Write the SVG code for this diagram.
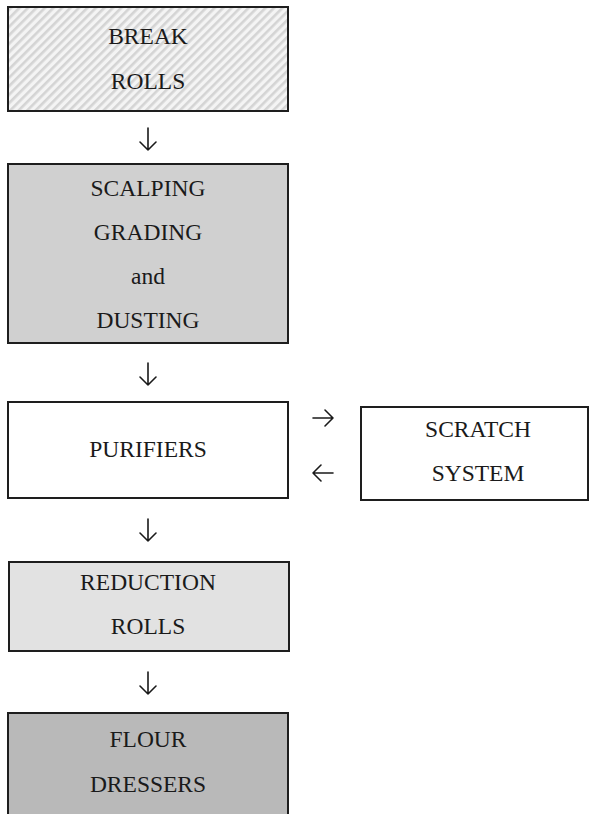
<svg xmlns="http://www.w3.org/2000/svg" width="589" height="814" viewBox="0 0 589 814">
  <defs>
    <pattern id="hatch" patternUnits="userSpaceOnUse" width="6" height="6" patternTransform="rotate(45)">
      <rect width="6" height="6" fill="#f4f4f4"/>
      <rect width="2.6" height="6" fill="#d4d4d4"/>
    </pattern>
    <style>
      .box { stroke: #1e1e1e; stroke-width: 2; }
      .lbl { font-family: "Liberation Serif", "Times New Roman", serif; font-size: 23.5px; fill: #1a1a1a; text-anchor: middle; }
      .arw { fill: none; stroke: #1a1a1a; stroke-width: 1.6; stroke-linecap: round; stroke-linejoin: round; }
    </style>
  </defs>
  <rect width="589" height="814" fill="#ffffff"/>

  <g id="break-rolls">
    <rect class="box" x="8" y="7" width="280" height="104" fill="url(#hatch)"/>
    <text class="lbl" x="148" y="44">BREAK</text>
    <text class="lbl" x="148" y="89">ROLLS</text>
  </g>

  <g id="scalping-grading-dusting">
    <rect class="box" x="8" y="164" width="280" height="179" fill="#d0d0d0"/>
    <text class="lbl" x="148" y="196">SCALPING</text>
    <text class="lbl" x="148" y="240">GRADING</text>
    <text class="lbl" x="148" y="284">and</text>
    <text class="lbl" x="148" y="328">DUSTING</text>
  </g>

  <g id="purifiers">
    <rect class="box" x="8" y="402" width="280" height="96" fill="#ffffff"/>
    <text class="lbl" x="148" y="457">PURIFIERS</text>
  </g>

  <g id="scratch-system">
    <rect class="box" x="361" y="407" width="227" height="93" fill="#ffffff"/>
    <text class="lbl" x="478" y="437">SCRATCH</text>
    <text class="lbl" x="478" y="481">SYSTEM</text>
  </g>

  <g id="reduction-rolls">
    <rect class="box" x="9" y="562" width="280" height="89" fill="#e2e2e2"/>
    <text class="lbl" x="148" y="590">REDUCTION</text>
    <text class="lbl" x="148" y="634">ROLLS</text>
  </g>

  <g id="flour-dressers">
    <rect class="box" x="8" y="713" width="280" height="110" fill="#b9b9b9"/>
    <text class="lbl" x="148" y="747">FLOUR</text>
    <text class="lbl" x="148" y="792">DRESSERS</text>
  </g>

  <g id="connectors">
    <!-- downward flow -->
    <path class="arw" d="M148 128 V150 M140 142 L148 150 L156 142"/>
    <path class="arw" d="M148 363 V385 M140 377 L148 385 L156 377"/>
    <path class="arw" d="M148 519 V541 M140 533 L148 541 L156 533"/>
    <path class="arw" d="M148 672 V694 M140 686 L148 694 L156 686"/>
    <!-- purifiers to and from scratch system -->
    <path class="arw" d="M313 418 H333 M325 410 L333 418 L325 426"/>
    <path class="arw" d="M333 473 H313 M321 465 L313 473 L321 481"/>
  </g>
</svg>
